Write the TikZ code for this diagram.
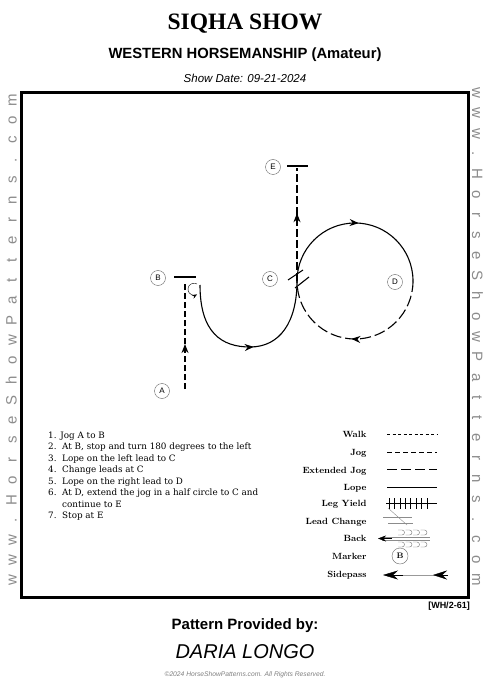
\documentclass[tikz,border=0pt]{standalone}
\usepackage{fontspec}
\newfontfamily\arialfont{Liberation Sans}
\newfontfamily\timesfont{Liberation Serif}
\newfontfamily\bookfont{DejaVu Serif}
\usetikzlibrary{arrows.meta,decorations.markings}
\tikzset{
  marker/.style={circle,draw=black!60,thin,minimum size=15pt,inner sep=0pt,
    font=\arialfont\fontsize{8}{8}\selectfont},
  track/.style={line width=1.1pt},
  jog/.style={dash pattern=on 6pt off 3pt},
  extjog/.style={dash pattern=on 11pt off 4pt},
  mid arrow/.style={postaction={decorate},decoration={markings,
    mark=at position #1 with {\pgfsetdash{}{0pt}\arrow{Stealth[length=9pt,width=7pt]}}}},
  legend/.style={anchor=base east,font=\bfseries\fontsize{9}{10}\selectfont},
  stepline/.style={anchor=base west,inner sep=0pt,font=\bookfont\fontsize{8.8}{10}\selectfont},
  side/.style={anchor=base,inner sep=0pt,text=black!45,font=\arialfont\fontsize{15}{15}\selectfont}
}
\begin{document}
\begin{tikzpicture}[x=1pt, y=-1pt, >=Stealth]
    \useasboundingbox (0,0) rectangle (490,692);
    \fill[white] (0,0) rectangle (490,692);
    % heading
    \node[font=\timesfont\bfseries\fontsize{23.5}{24}\selectfont] (title) at (245,24) {SIQHA SHOW};
    \node[font=\arialfont\bfseries\fontsize{14.8}{15}\selectfont] (class) at (245,55) {WESTERN HORSEMANSHIP (Amateur)};
    \node[font=\arialfont\itshape\fontsize{11.5}{12}\selectfont] (date) at (245,78) {Show Date: 09-21-2024};
    % arena
    \draw[line width=3pt] (21.5,92.5) rectangle (468,597);
    \foreach \ch [count=\i from 0] in {w,w,w,.,H,o,r,s,e,S,h,o,w,P,a,t,t,e,r,n,s,.,c,o,m} {
      \node[side,rotate=90] (lw\i) at (16.5,{580-20*\i}) {\ch};
      \node[side,rotate=-90] (rw\i) at (472,{93+20.3*\i}) {\ch};
    }
    % markers
    \node[marker] (A) at (162,391) {A};
    \node[marker] (B) at (158,278) {B};
    \node[marker] (C) at (270,279) {C};
    \node[marker] (D) at (395,282) {D};
    \node[marker] (E) at (273,167) {E};
    \coordinate (a0) at (185,389);
    \coordinate (b0) at (185,282);
    \coordinate (c0) at (297,281);
    \coordinate (d0) at (413,281);
    \coordinate (e0) at (297,168);
    % pattern
    \draw[track,jog,mid arrow=0.42] (a0) -- (b0);
    \draw[track] (174,277) -- (196,277);
    \draw[thin,-{Stealth[length=5pt,width=4pt]}] (197,284) arc[start angle=-60,end angle=-300,radius=6];
    \draw[track,mid arrow=0.52] (200,285) .. controls (200,333) and (222,347) .. (250,347)
      .. controls (280,347) and (297,322) .. (c0);
    \draw[track] (288,280) -- (303,270);
    \draw[track] (295,288) -- (309,277);
    \draw[track,mid arrow=0.52] (c0) arc[start angle=180,end angle=360,radius=58];
    \draw[track,extjog,mid arrow=0.52] (d0) arc[start angle=0,end angle=180,radius=58];
    \draw[track,dash pattern=on 8pt off 3pt,mid arrow=0.6] (c0) -- (e0);
    \draw[track] (287,166) -- (308,166);
    % steps
    \node[stepline] (s1) at (48,438) {1. Jog A to B};
    \node[stepline] (n2) at (48,449.5) {2.};
    \node[stepline] (s2) at (62,449.5) {At B, stop and turn 180 degrees to the left};
    \node[stepline] (n3) at (48,461) {3.};
    \node[stepline] (s3) at (62,461) {Lope on the left lead to C};
    \node[stepline] (n4) at (48,472.5) {4.};
    \node[stepline] (s4) at (62,472.5) {Change leads at C};
    \node[stepline] (n5) at (48,484) {5.};
    \node[stepline] (s5) at (62,484) {Lope on the right lead to D};
    \node[stepline] (n6) at (48,495.5) {6.};
    \node[stepline] (s6) at (62,495.5) {At D, extend the jog in a half\ circle to C and};
    \node[stepline] (s6b) at (62,507) {continue to E};
    \node[stepline] (n7) at (48,518.5) {7.};
    \node[stepline] (s7) at (62,518.5) {Stop at E};
    % legend
    \node[legend] (kwalk) at (370,437) {Walk};
    \draw[thin,dash pattern=on 3pt off 2.5pt] (387,434) -- (437,434);
    \node[legend] (kjog) at (370,455) {Jog};
    \draw[thin,dash pattern=on 5pt off 3pt] (387,452) -- (437,452);
    \node[legend] (kext) at (370,473) {Extended Jog};
    \draw[thin,dash pattern=on 10pt off 4pt] (387,469.5) -- (437,469.5);
    \node[legend] (klope) at (370,490) {Lope};
    \draw[thin] (387,487) -- (437,487);
    \node[legend] (kyield) at (370,506) {Leg Yield};
    \draw[thin] (386,503) -- (437,503);
    \foreach \k in {0,...,7}
      \draw[thin] ({389+5.4*\k},498) -- ({389+5.4*\k},509);
    \node[legend] (klead) at (370,524) {Lead Change};
    \draw[black!45,thin] (383,517) -- (412,517);
    \draw[black!45,thin] (388,523) -- (413,523);
    \draw[black!45,thin] (388,508) -- (407,525);
    \node[legend] (kback) at (370,541) {Back};
    \draw[black!45,thin] (382,537) -- (430,537);
    \draw[black!45,thin] (382,540) -- (430,540);
    \foreach \k in {0,...,3} {
      \draw[black!55,thin] ({398+7.5*\k},530) -- ({402+7.5*\k},530)
        arc[start angle=-90,end angle=90,radius=2.5] -- ({398+7.5*\k},535);
      \draw[black!55,thin] ({398+7.5*\k},542) -- ({402+7.5*\k},542)
        arc[start angle=-90,end angle=90,radius=2.5] -- ({398+7.5*\k},547);
    }
    \draw[-{Stealth[length=8pt,width=6pt]}] (392,538.5) -- (378,538.5);
    \node[legend] (kmark) at (370,559) {Marker};
    \node[circle,draw=black!60,thin,minimum size=16pt,inner sep=0pt,
      font=\bfseries\fontsize{8}{8}\selectfont] (kB) at (400,556) {B};
    \node[legend] (kside) at (370,577) {Sidepass};
    \draw[black!40,very thin] (385,575) -- (448,575);
    \draw[-{Stealth[length=15pt,width=9pt]}] (403,575) -- (383,575);
    \draw[-{Stealth[length=14pt,width=9pt]}] (448,575) -- (433,575);
    % footer
    \node[font=\arialfont\bfseries\fontsize{9}{9}\selectfont] (code) at (449,606) {[WH/2-61]};
    \node[font=\arialfont\bfseries\fontsize{15}{15}\selectfont] (provided) at (245,626) {Pattern Provided by:};
    \node[font=\arialfont\itshape\fontsize{20}{20}\selectfont] (judge) at (245,652) {DARIA LONGO};
    \node[text=black!50,font=\arialfont\itshape\fontsize{6.7}{7}\selectfont] (copy) at (245,675)
      {\textcopyright2024 HorseShowPatterns.com. All Rights Reserved.};
  \end{tikzpicture}
\end{document}
